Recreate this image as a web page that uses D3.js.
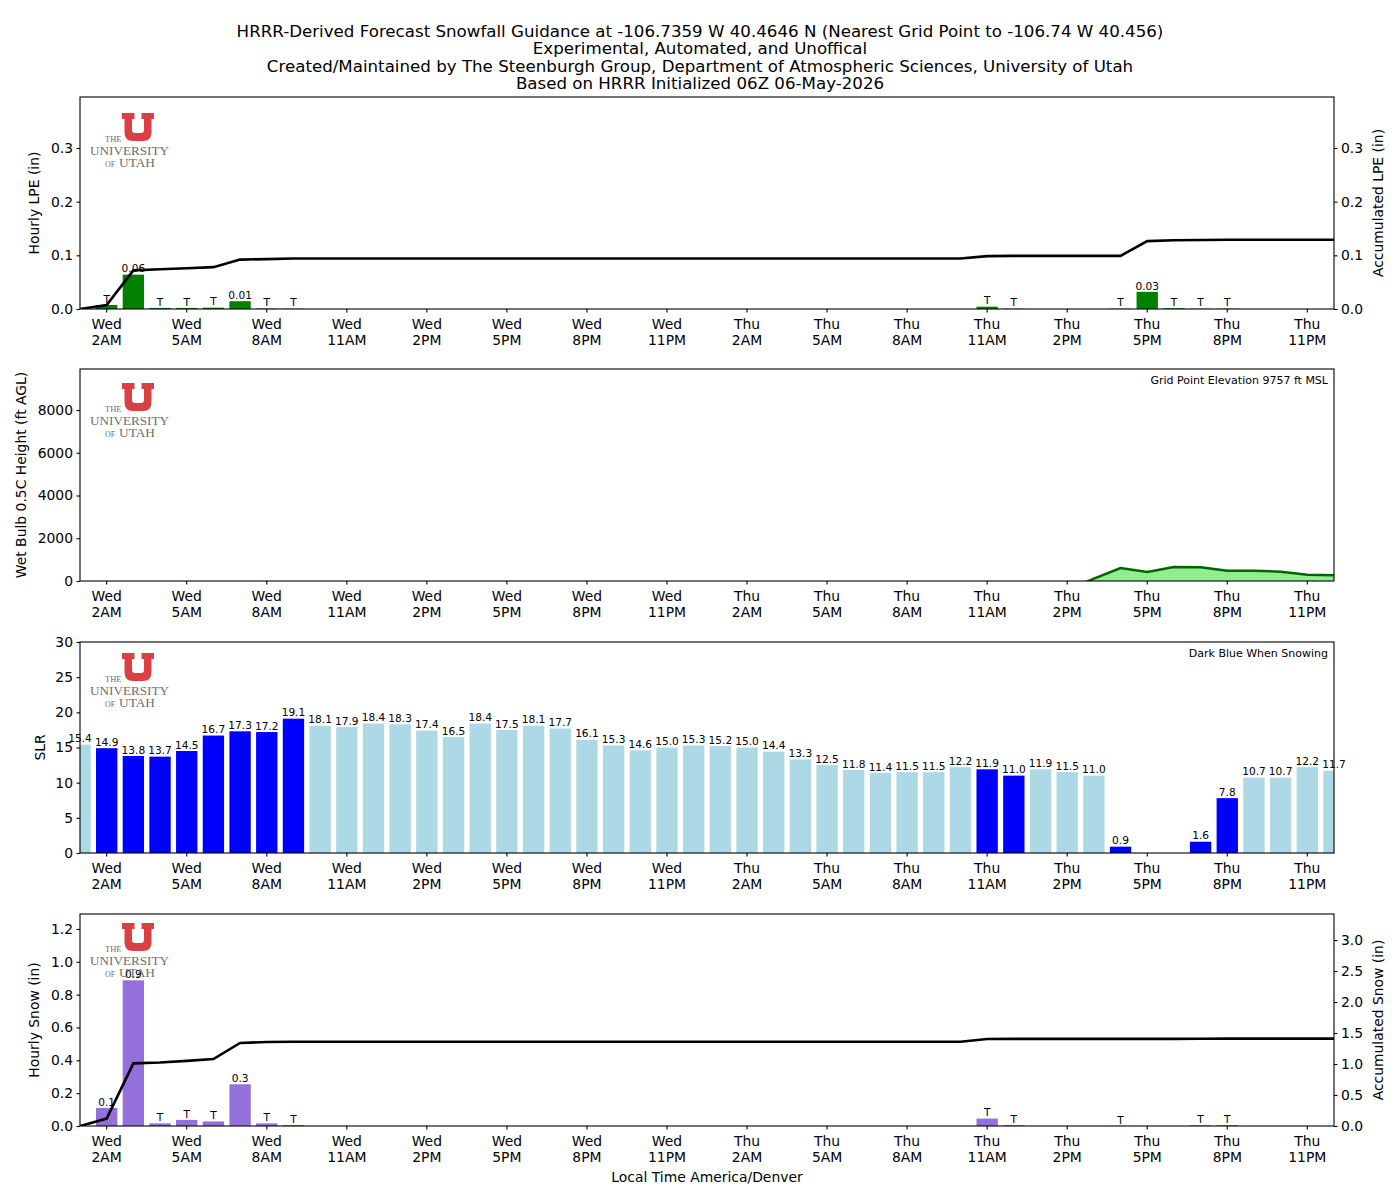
<!DOCTYPE html>
<html><head><meta charset="utf-8">
<script src="https://cdn.jsdelivr.net/npm/d3@7"></script>
<style>
body{margin:0;background:#fff;}
svg{display:block;font-family:"DejaVu Sans",sans-serif;}
</style></head>
<body>
<svg id="chart" width="1400" height="1200"></svg>
<script>
// ---------------- DATA ----------------
const titleLines = [
  "HRRR-Derived Forecast Snowfall Guidance at -106.7359 W 40.4646 N (Nearest Grid Point to -106.74 W 40.456)",
  "Experimental, Automated, and Unoffical",
  "Created/Maintained by The Steenburgh Group, Department of Atmospheric Sciences, University of Utah",
  "Based on HRRR Initialized 06Z 06-May-2026"
];
// hour index 0 = Wed 1AM ... 47 = Fri 12AM
const tickIndex = [1,4,7,10,13,16,19,22,25,28,31,34,37,40,43,46];
const tickDay = ["Wed","Wed","Wed","Wed","Wed","Wed","Wed","Wed","Thu","Thu","Thu","Thu","Thu","Thu","Thu","Thu"];
const tickTime = ["2AM","5AM","8AM","11AM","2PM","5PM","8PM","11PM","2AM","5AM","8AM","11AM","2PM","5PM","8PM","11PM"];

const hourlyLPE = [0,0.0075,0.064,0.002,0.002,0.0025,0.0145,0.0008,0.0005,
  0,0,0,0,0,0,0,0,0,0,0,0,0,0,0,0,0,0,0,0,0,0,0,0,0,
  0.0043,0.0005,0,0,0,0.0005,0.032,0.0015,0.0005,0.0005,0,0,0,0];
const accumLPE = [0,0.0075,0.072,0.074,0.076,0.078,0.092,0.093,0.094,
  0.094,0.094,0.094,0.094,0.094,0.094,0.094,0.094,0.094,0.094,0.094,0.094,0.094,0.094,0.094,0.094,0.094,0.094,0.094,0.094,0.094,0.094,0.094,0.094,0.094,
  0.0985,0.099,0.099,0.099,0.099,0.099,0.1265,0.128,0.1285,0.129,0.129,0.129,0.129,0.129];

const wetBulbHeight = [null,null,null,null,null,null,null,null,null,null,null,null,null,null,null,null,null,null,null,null,
  null,null,null,null,null,null,null,null,null,null,null,null,null,null,null,null,null,
  -440,110,608,420,655,640,483,483,437,296,265];

const slr = [15.4,14.9,13.8,13.7,14.5,16.7,17.3,17.2,19.1,18.1,17.9,18.4,18.3,17.4,16.5,18.4,17.5,18.1,17.7,16.1,
  15.3,14.6,15.0,15.3,15.2,15.0,14.4,13.3,12.5,11.8,11.4,11.5,11.5,12.2,11.9,11.0,11.9,11.5,11.0,0.9,
  null,null,1.6,7.8,10.7,10.7,12.2,11.7];

const hourlySnow = [0,0.11,0.887,0.016,0.037,0.028,0.254,0.016,0.006,
  0,0,0,0,0,0,0,0,0,0,0,0,0,0,0,0,0,0,0,0,0,0,0,0,0,
  0.045,0.005,0,0,0,0.001,0,0,0.004,0.005,0,0,0,0];
const accumSnow = [0,0.12,1.01,1.025,1.05,1.08,1.34,1.355,1.36,
  1.36,1.36,1.36,1.36,1.36,1.36,1.36,1.36,1.36,1.36,1.36,1.36,1.36,1.36,1.36,1.36,1.36,1.36,1.36,1.36,1.36,1.36,1.36,1.36,1.36,
  1.403,1.405,1.405,1.405,1.405,1.406,1.406,1.406,1.408,1.41,1.41,1.41,1.41,1.41];

const lpeTicks = [0,0.1,0.2,0.3];
const wbTicks = [0,2000,4000,6000,8000];
const slrTicks = [0,5,10,15,20,25,30];
const snowTicks = [0,0.2,0.4,0.6,0.8,1.0,1.2];
const accSnowTicks = [0,0.5,1.0,1.5,2.0,2.5,3.0];

// ---------------- LAYOUT ----------------
const svg = d3.select("#chart");
const L = 80, R = 1334;
const panels = [
  {top:97, bottom:309},
  {top:369, bottom:581},
  {top:642, bottom:853},
  {top:914, bottom:1126}
];
const x = d3.scaleLinear().domain([0,47]).range([L,R]);
const step = x(1)-x(0);
const bw = step*0.8;
const idx = d3.range(48);

const FS_TICK = 13.9, FS_SMALL = 10.6;

// title
svg.append("g").selectAll("text").data(titleLines).join("text")
  .attr("x",700).attr("y",(d,i)=>36.5+i*17.5)
  .attr("text-anchor","middle").attr("font-size",16.67).attr("fill","#000").text(d=>d);

const defs = svg.append("defs");
panels.forEach((p,i)=>{
  defs.append("clipPath").attr("id","clip"+i).append("rect")
    .attr("x",L).attr("y",p.top).attr("width",R-L).attr("height",p.bottom-p.top);
});

function logo(yTop){
  const g = svg.append("g");
  g.append("path")
    .attr("transform",`translate(122,${yTop})`)
    .attr("d","M0,0 H12.5 V6 H10 V17 Q10,20 13,20 H19 Q22,20 22,17 V6 H19.5 V0 H32 V6 H29.5 V19 Q29.5,28 21,28 H11 Q2.5,28 2.5,19 V6 H0 Z")
    .attr("fill","#da3f44");
  const col = "#6e6e6e";
  g.append("text").attr("x",105).attr("y",yTop+28.5).attr("font-family","'Liberation Serif','DejaVu Serif',serif")
    .attr("font-size",8.5).attr("fill",col).attr("textLength",16.5).attr("lengthAdjust","spacingAndGlyphs").text("THE");
  g.append("text").attr("x",90).attr("y",yTop+42).attr("font-family","'Liberation Serif','DejaVu Serif',serif")
    .attr("font-size",12.5).attr("fill",col).attr("textLength",79).attr("lengthAdjust","spacingAndGlyphs").text("UNIVERSITY");
  g.append("text").attr("x",105).attr("y",yTop+54).attr("font-family","'Liberation Serif','DejaVu Serif',serif")
    .attr("font-size",8.5).attr("fill",col).attr("textLength",10).attr("lengthAdjust","spacingAndGlyphs").text("OF");
  g.append("text").attr("x",119).attr("y",yTop+54).attr("font-family","'Liberation Serif','DejaVu Serif',serif")
    .attr("font-size",12.5).attr("fill",col).attr("textLength",36).attr("lengthAdjust","spacingAndGlyphs").text("UTAH");
}

function frame(p){
  svg.append("rect").attr("x",L).attr("y",p.top).attr("width",R-L).attr("height",p.bottom-p.top)
    .attr("fill","none").attr("stroke","#000").attr("stroke-width",1.1);
}

function xAxis(p){
  const g = svg.append("g").attr("transform",`translate(0,${p.bottom})`);
  g.selectAll("line").data(tickIndex).join("line")
    .attr("x1",d=>x(d)).attr("x2",d=>x(d)).attr("y1",0).attr("y2",3.5)
    .attr("stroke","#000").attr("stroke-width",1.1);
  const t = g.selectAll("text").data(tickIndex).join("text")
    .attr("text-anchor","middle").attr("font-size",FS_TICK).attr("fill","#000");
  t.append("tspan").attr("x",d=>x(d)).attr("y",20).text((d,i)=>tickDay[i]);
  t.append("tspan").attr("x",d=>x(d)).attr("y",36.3).text((d,i)=>tickTime[i]);
}

function yAxisLeft(p, scale, ticks, fmt){
  const ax = d3.axisLeft(scale).tickValues(ticks).tickFormat(fmt).tickSize(3.5).tickPadding(3.5).tickSizeOuter(0);
  const g = svg.append("g").attr("transform",`translate(${L},0)`).call(ax);
  g.select(".domain").remove();
  g.selectAll("text").attr("font-size",FS_TICK).attr("font-family","DejaVu Sans").attr("fill","#000");
  g.selectAll("line").attr("stroke","#000").attr("stroke-width",1.1);
}
function yAxisRight(p, scale, ticks, fmt){
  const ax = d3.axisRight(scale).tickValues(ticks).tickFormat(fmt).tickSize(3.5).tickPadding(3.5).tickSizeOuter(0);
  const g = svg.append("g").attr("transform",`translate(${R},0)`).call(ax);
  g.select(".domain").remove();
  g.selectAll("text").attr("font-size",FS_TICK).attr("font-family","DejaVu Sans").attr("fill","#000");
  g.selectAll("line").attr("stroke","#000").attr("stroke-width",1.1);
}
function yLabel(p, cx, text){
  const cy = (p.top+p.bottom)/2;
  svg.append("text").attr("transform",`translate(${cx},${cy}) rotate(-90)`)
    .attr("text-anchor","middle").attr("dy","0.36em").attr("font-size",FS_TICK).attr("fill","#000").text(text);
}

// ---------------- PANEL 1: LPE ----------------
{
  const p = panels[0];
  const y = d3.scaleLinear().domain([0,0.395]).range([p.bottom,p.top]);
  const gc = svg.append("g").attr("clip-path","url(#clip0)");
  gc.selectAll("rect").data(idx.filter(i=>hourlyLPE[i]>0)).join("rect")
    .attr("x",i=>x(i)-bw/2).attr("width",bw)
    .attr("y",i=>y(hourlyLPE[i])).attr("height",i=>y(0)-y(hourlyLPE[i]))
    .attr("fill","#008000");
  gc.append("path").datum(idx)
    .attr("d",d3.line().x(i=>x(i)).y(i=>y(accumLPE[i])))
    .attr("fill","none").attr("stroke","#000").attr("stroke-width",2.6);
  svg.append("g").selectAll("text").data(idx.filter(i=>hourlyLPE[i]>0)).join("text")
    .attr("x",i=>x(i)).attr("y",i=>y(hourlyLPE[i])-2.3)
    .attr("text-anchor","middle").attr("font-size",FS_SMALL).attr("fill","#000")
    .text(i=>hourlyLPE[i]<0.01?"T":hourlyLPE[i].toFixed(2));
  logo(113);
  frame(p);
  xAxis(p);
  yAxisLeft(p,y,lpeTicks,d3.format(".1f"));
  yAxisRight(p,y,lpeTicks,d3.format(".1f"));
  yLabel(p,34,"Hourly LPE (in)");
  yLabel(p,1378,"Accumulated LPE (in)");
}

// ---------------- PANEL 2: Wet bulb ----------------
{
  const p = panels[1];
  const y = d3.scaleLinear().domain([0,9920]).range([p.bottom,p.top]);
  const gc = svg.append("g").attr("clip-path","url(#clip1)");
  const def = i=>wetBulbHeight[i]!==null;
  gc.append("path").datum(idx)
    .attr("d",d3.area().defined(def).x(i=>x(i)).y0(y(0)).y1(i=>y(wetBulbHeight[i])))
    .attr("fill","#90ee90");
  gc.append("path").datum(idx)
    .attr("d",d3.line().defined(def).x(i=>x(i)).y(i=>y(wetBulbHeight[i])))
    .attr("fill","none").attr("stroke","#006400").attr("stroke-width",2.5);
  logo(383);
  frame(p);
  xAxis(p);
  yAxisLeft(p,y,wbTicks,d3.format("d"));
  yLabel(p,21,"Wet Bulb 0.5C Height (ft AGL)");
  svg.append("text").attr("x",1328).attr("y",p.top+14.5).attr("text-anchor","end")
    .attr("font-size",11).attr("fill","#000").text("Grid Point Elevation 9757 ft MSL");
}

// ---------------- PANEL 3: SLR ----------------
{
  const p = panels[2];
  const y = d3.scaleLinear().domain([0,30]).range([p.bottom,p.top]);
  const have = idx.filter(i=>slr[i]!==null);
  const gc = svg.append("g").attr("clip-path","url(#clip2)");
  gc.selectAll("rect").data(have).join("rect")
    .attr("x",i=>x(i)-bw/2).attr("width",bw)
    .attr("y",i=>y(slr[i])).attr("height",i=>y(0)-y(slr[i]))
    .attr("fill",i=>hourlySnow[i]>0?"#0000ff":"#add8e6");
  svg.append("g").selectAll("text").data(have).join("text")
    .attr("x",i=>x(i)).attr("y",i=>y(slr[i])-2.3)
    .attr("text-anchor","middle").attr("font-size",FS_SMALL).attr("fill","#000")
    .text(i=>slr[i].toFixed(1));
  logo(653);
  frame(p);
  xAxis(p);
  yAxisLeft(p,y,slrTicks,d3.format("d"));
  yLabel(p,40,"SLR");
  svg.append("text").attr("x",1328).attr("y",p.top+14.5).attr("text-anchor","end")
    .attr("font-size",11).attr("fill","#000").text("Dark Blue When Snowing");
}

// ---------------- PANEL 4: Snow ----------------
{
  const p = panels[3];
  const y = d3.scaleLinear().domain([0,1.291]).range([p.bottom,p.top]);
  const y2 = d3.scaleLinear().domain([0,3.42]).range([p.bottom,p.top]);
  const gc = svg.append("g").attr("clip-path","url(#clip3)");
  gc.selectAll("rect").data(idx.filter(i=>hourlySnow[i]>0)).join("rect")
    .attr("x",i=>x(i)-bw/2).attr("width",bw)
    .attr("y",i=>y(hourlySnow[i])).attr("height",i=>y(0)-y(hourlySnow[i]))
    .attr("fill","#9370db");
  logo(923);
  svg.append("g").selectAll("text").data(idx.filter(i=>hourlySnow[i]>0)).join("text")
    .attr("x",i=>x(i)).attr("y",i=>y(hourlySnow[i])-2.3)
    .attr("text-anchor","middle").attr("font-size",FS_SMALL).attr("fill","#000")
    .text(i=>hourlySnow[i]<0.05?"T":hourlySnow[i].toFixed(1));
  const gc2 = svg.append("g").attr("clip-path","url(#clip3)");
  gc2.append("path").datum(idx)
    .attr("d",d3.line().x(i=>x(i)).y(i=>y2(accumSnow[i])))
    .attr("fill","none").attr("stroke","#000").attr("stroke-width",2.6);
  frame(p);
  xAxis(p);
  yAxisLeft(p,y,snowTicks,d3.format(".1f"));
  yAxisRight(p,y2,accSnowTicks,d3.format(".1f"));
  yLabel(p,34,"Hourly Snow (in)");
  yLabel(p,1378,"Accumulated Snow (in)");
  svg.append("text").attr("x",707).attr("y",1182).attr("text-anchor","middle")
    .attr("font-size",FS_TICK).attr("fill","#000").text("Local Time America/Denver");
}
</script>
</body></html>
